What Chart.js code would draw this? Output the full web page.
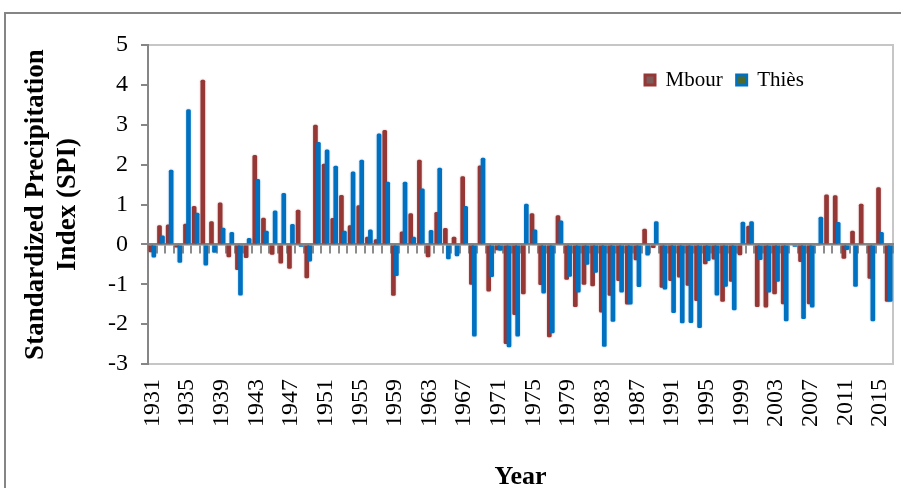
<!DOCTYPE html>
<html>
<head>
<meta charset="utf-8">
<title>SPI Mbour / Thiès</title>
<script src="https://cdn.jsdelivr.net/npm/chart.js@4.4.1/dist/chart.umd.min.js"></script>
<style>
  html, body { margin: 0; padding: 0; background: #ffffff; }
  canvas { display: block; }
</style>
</head>
<body>
<canvas id="spi" width="901" height="488"></canvas>
<script>
// Years on the category axis (one bar pair per year)
const years = [
  '1931','1932','1933','1934','1935','1936','1937','1938','1939','1940',
  '1941','1942','1943','1944','1945','1946','1947','1948','1949','1950',
  '1951','1952','1953','1954','1955','1956','1957','1958','1959','1960',
  '1961','1962','1963','1964','1965','1966','1967','1968','1969','1970',
  '1971','1972','1973','1974','1975','1976','1977','1978','1979','1980',
  '1981','1982','1983','1984','1985','1986','1987','1988','1989','1990',
  '1991','1992','1993','1994','1995','1996','1997','1998','1999','2000',
  '2001','2002','2003','2004','2005','2006','2007','2008','2009','2010',
  '2011','2012','2013','2014','2015','2016'
];

// Standardized Precipitation Index, Mbour station
const mbour = [
  -0.20, 0.48, 0.50, -0.08, 0.52, 0.96, 4.13, 0.58, 1.05, -0.32,
  -0.64, -0.34, 2.24, 0.67, -0.26, -0.48, -0.61, 0.87, -0.85, 3.00,
  2.02, 0.66, 1.24, 0.48, 0.98, 0.19, 0.13, 2.87, -1.29, 0.32,
  0.78, 2.12, -0.32, 0.81, 0.41, 0.19, 1.71, -1.01, 1.98, -1.18,
  -0.15, -2.50, -1.77, -1.25, 0.78, -1.02, -2.33, 0.73, -0.89, -1.57,
  -1.01, -1.05, -1.71, -1.29, -0.92, -1.51, -0.40, 0.39, -0.09, -1.09,
  -0.92, -0.83, -1.04, -1.42, -0.50, -0.38, -1.44, -0.94, -0.27, 0.47,
  -1.57, -1.58, -1.25, -1.50, -0.03, -0.44, -1.50, -0.02, 1.25, 1.23,
  -0.36, 0.34, 1.02, -0.86, 1.43, -1.44
];

// Standardized Precipitation Index, Thiès station
const thies = [
  -0.33, 0.22, 1.87, -0.46, 3.39, 0.79, -0.53, -0.21, 0.42, 0.31,
  -1.28, 0.16, 1.64, 0.34, 0.85, 1.29, 0.51, -0.06, -0.43, 2.57,
  2.38, 1.97, 0.34, 1.83, 2.12, 0.37, 2.78, 1.57, -0.79, 1.57,
  0.19, 1.40, 0.36, 1.92, -0.37, -0.30, 0.96, -2.31, 2.17, -0.82,
  -0.16, -2.58, -2.31, 1.02, 0.37, -1.23, -2.23, 0.60, -0.81, -1.21,
  -0.51, -0.71, -2.57, -1.94, -1.21, -1.51, -1.07, -0.28, 0.58, -1.13,
  -1.72, -1.98, -1.97, -2.10, -0.42, -1.28, -1.06, -1.65, 0.57, 0.58,
  -0.39, -1.21, -0.94, -1.93, -0.06, -1.87, -1.58, 0.69, -0.03, 0.56,
  -0.14, -1.06, 0.02, -1.93, 0.31, -1.44
];

const seriesNames = ['Mbour', 'Thiès'];
const yAxisTitle = ['Standardized Precipitation', 'Index (SPI)'];
const xAxisTitle = 'Year';

const SERIF = "'Liberation Serif', 'Times New Roman', serif";
const AXIS_GRAY = '#868686';

const barColors  = ['#953735', '#0070C0'];
const haloColors = ['rgba(149,55,53,0.45)', 'rgba(0,112,192,0.40)'];
const legendFill = ['#7e5a58', '#4d6a2c'];

// White page, outer frame and plot-area frame
const pageFrame = {
  id: 'pageFrame',
  beforeDraw(chart) {
    const { ctx, chartArea: a } = chart;
    ctx.save();
    ctx.fillStyle = '#ffffff';
    ctx.fillRect(0, 0, chart.width, chart.height);
    ctx.strokeStyle = '#858585';
    ctx.lineWidth = 2;
    ctx.strokeRect(5, 13, chart.width + 40, chart.height + 40);
    ctx.strokeStyle = '#c6c6c6';
    ctx.lineWidth = 2;
    ctx.strokeRect(a.left, a.top, a.right - a.left, a.bottom - a.top);
    ctx.restore();
  }
};

// Draw the series in dataset order (Thiès over Mbour) with a soft halo
const barLayers = {
  id: 'barLayers',
  beforeDatasetsDraw(chart) {
    const ctx = chart.ctx;
    chart.data.datasets.forEach((ds, i) => {
      const meta = chart.getDatasetMeta(i);
      if (!meta.visible) return;
      ctx.save();
      ctx.shadowColor = haloColors[i];
      ctx.shadowBlur = 2;
      meta.controller.draw();
      ctx.restore();
    });
    return false;
  }
};

// Legend sits inside the plot, upper right
const legendInPlot = {
  id: 'legendInPlot',
  afterLayout(chart) {
    const lg = chart.legend;
    const a = chart.chartArea;
    const h = lg.height;
    lg.left = a.left + 483;
    lg.right = lg.left + 300;
    lg.top = a.top + 10.5;
    lg.bottom = lg.top + h;
  }
};

new Chart(document.getElementById('spi'), {
  type: 'bar',
  data: {
    labels: years,
    datasets: [
      { label: seriesNames[0], data: mbour, backgroundColor: barColors[0], xAxisID: 'x', yAxisID: 'y' },
      { label: seriesNames[1], data: thies, backgroundColor: barColors[1], xAxisID: 'x', yAxisID: 'y' }
    ]
  },
  options: {
    responsive: false,
    animation: false,
    events: [],
    devicePixelRatio: 1,
    layout: { padding: { top: 0, right: 8, bottom: 0, left: 0 } },
    datasets: {
      bar: {
        categoryPercentage: 0.69,
        barPercentage: 1.55,
        borderRadius: 1.5,
        borderSkipped: 'start'
      }
    },
    plugins: {
      tooltip: { enabled: false },
      legend: {
        display: true,
        position: 'top',
        align: 'start',
        labels: {
          font: { family: SERIF, size: 21 },
          color: '#000000',
          boxWidth: 10,
          boxHeight: 10,
          padding: 14,
          generateLabels: (chart) => chart.data.datasets.map((ds, i) => ({
            text: ds.label,
            fillStyle: legendFill[i],
            strokeStyle: barColors[i],
            lineWidth: 3,
            hidden: false,
            datasetIndex: i,
            fontColor: '#000000'
          }))
        }
      }
    },
    scales: {
      // Category axis crossing at zero: axis line and tick marks only
      x: {
        type: 'category',
        position: { y: 0 },
        offset: true,
        grid: {
          display: true,
          offset: true,
          drawOnChartArea: false,
          drawTicks: true,
          tickLength: 8,
          color: '#8c8c8c',
          lineWidth: 2
        },
        border: { display: true, color: AXIS_GRAY, width: 2.5 },
        ticks: { display: false, autoSkip: false }
      },
      // Year labels along the bottom of the plot
      xLab: {
        type: 'category',
        position: 'bottom',
        offset: true,
        grid: { display: false, offset: true },
        border: { display: false },
        ticks: {
          autoSkip: false,
          maxRotation: 90,
          minRotation: 90,
          padding: 7,
          color: '#000000',
          font: { family: SERIF, size: 24 },
          callback: (value, index) => (index % 4 === 0 ? years[index] : '')
        },
        title: {
          display: true,
          text: xAxisTitle,
          color: '#000000',
          font: { family: SERIF, size: 26, weight: 'bold', lineHeight: 0.85 },
          padding: { top: 0, bottom: 0 }
        },
        afterFit: (scale) => {
          scale.height = 124;
          scale.paddingLeft = 0;
          scale.paddingRight = 0;
        }
      },
      y: {
        type: 'linear',
        position: 'left',
        min: -3,
        max: 5,
        ticks: {
          stepSize: 1,
          padding: 13,
          color: '#000000',
          font: { family: SERIF, size: 24 }
        },
        grid: {
          display: true,
          drawOnChartArea: false,
          drawTicks: true,
          tickLength: 7,
          color: AXIS_GRAY,
          lineWidth: 2
        },
        border: { display: true, color: AXIS_GRAY, width: 2 },
        title: {
          display: true,
          text: yAxisTitle,
          color: '#000000',
          font: { family: SERIF, size: 27, weight: 'bold', lineHeight: 1.15 },
          padding: { top: 21, bottom: 0 }
        },
        afterFit: (scale) => { scale.width = 148; }
      }
    }
  },
  plugins: [pageFrame, barLayers, legendInPlot]
});
</script>
</body>
</html>
